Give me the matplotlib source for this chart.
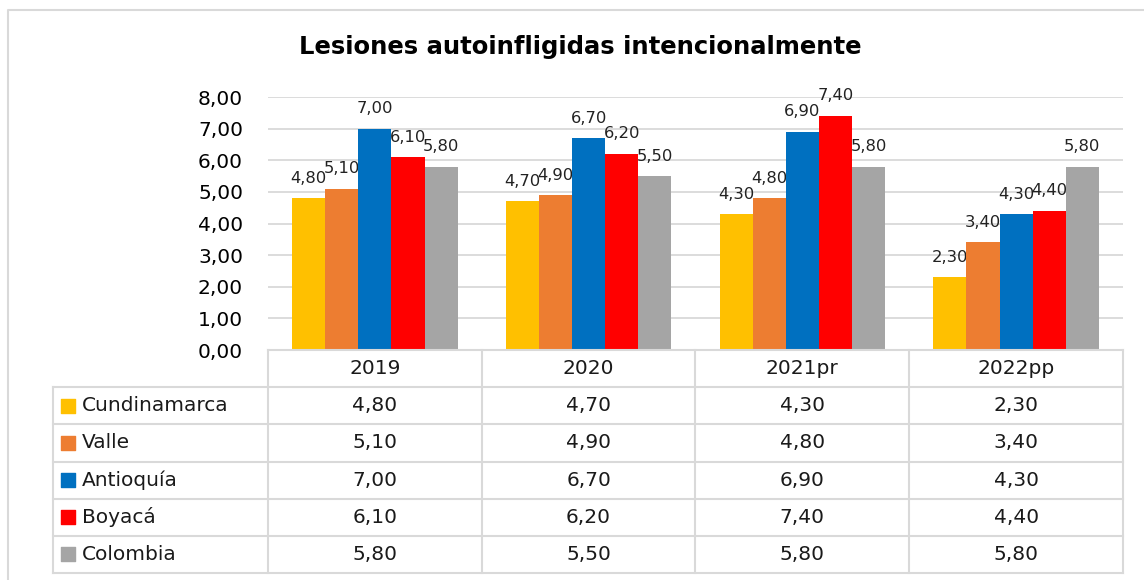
import matplotlib.pyplot as plt
import numpy as np
from matplotlib.lines import Line2D

# Datos
anios = ['2019', '2020', '2021pr', '2022pp']
series = ['Cundinamarca', 'Valle', 'Antioquía', 'Boyacá', 'Colombia']
cundinamarca = [4.80, 4.70, 4.30, 2.30]
valle = [5.10, 4.90, 4.80, 3.40]
antioquia = [7.00, 6.70, 6.90, 4.30]
boyaca = [6.10, 6.20, 7.40, 4.40]
colombia = [5.80, 5.50, 5.80, 5.80]
valores = [cundinamarca, valle, antioquia, boyaca, colombia]
colores = ['#FFC000', '#ED7D31', '#0070C0', '#FF0000', '#A5A5A5']
yticks = [0, 1, 2, 3, 4, 5, 6, 7, 8]

plt.rcParams['font.family'] = ['DejaVu Sans']
W, H = 1144, 580
gris = '#d9d9d9'


def fmt(v):
    return f"{v:.2f}".replace('.', ',')


fig = plt.figure(figsize=(W / 100, H / 100), dpi=100)

# marco del grafico (solo borde izquierdo y superior visibles)
fig.add_artist(Line2D([8 / W, 8 / W, 1.0], [0.0, 1 - 10 / H, 1 - 10 / H],
                      transform=fig.transFigure, color=gris, lw=1.5))

fig.text(580 / W, 1 - 47 / H, 'Lesiones autoinfligidas intencionalmente',
         ha='center', va='center', fontsize=17.5, fontweight='bold')

# grafico de barras
x0, x1, ytop, ybot = 268, 1123, 97, 350
ax = fig.add_axes([x0 / W, 1 - ybot / H, (x1 - x0) / W, (ybot - ytop) / H])
x = np.arange(len(anios))
ancho = 0.155
for i, (vals, c) in enumerate(zip(valores, colores)):
    pos = x + (i - 2) * ancho
    ax.bar(pos, vals, width=ancho, color=c, zorder=3)
    for p, v in zip(pos, vals):
        ax.annotate(fmt(v), (p, v), xytext=(0, 9), textcoords='offset points',
                    ha='center', va='bottom', fontsize=11.8, color='#222222')
ax.set_xlim(-0.5, len(anios) - 0.5)
ax.set_ylim(0, 8)
ax.set_yticks(yticks)
ax.set_yticklabels([fmt(v) for v in yticks], fontsize=14.5)
ax.tick_params(axis='y', length=0, pad=18)
ax.set_xticks([])
ax.yaxis.grid(True, color=gris, lw=1.3, zorder=0)
for s in ax.spines.values():
    s.set_visible(False)

# tabla de datos
tx0, tbot = 53, 573
tab = fig.add_axes([tx0 / W, 1 - tbot / H, (x1 - tx0) / W, (tbot - ybot) / H])
col_w = (x1 - x0) / len(anios)
lab_w = (x0 - tx0) / col_w
n_filas = len(series) + 1
tab.set_xlim(-0.5 - lab_w, len(anios) - 0.5)
tab.set_ylim(n_filas, 0)
tab.axis('off')

izq = -0.5 - lab_w
der = len(anios) - 0.5
# lineas horizontales
tab.plot([-0.5, der], [0, 0], color=gris, lw=1.5, clip_on=False)
for r in range(1, n_filas + 1):
    tab.plot([izq, der], [r, r], color=gris, lw=1.5, clip_on=False)
# lineas verticales
tab.plot([izq, izq], [1, n_filas], color=gris, lw=1.5, clip_on=False)
for c in range(len(anios) + 1):
    tab.plot([c - 0.5, c - 0.5], [0, n_filas], color=gris, lw=1.5, clip_on=False)

for j, a in enumerate(anios):
    tab.text(j, 0.5, a, ha='center', va='center', fontsize=14.5, color='#1a1a1a')
for i, (nombre, vals, c) in enumerate(zip(series, valores, colores)):
    fila = i + 1.5
    tab.scatter([izq + 0.07], [fila], marker='s', s=95, color=c, clip_on=False)
    tab.text(izq + 0.135, fila, nombre, ha='left', va='center', fontsize=14.5, color='#1a1a1a')
    for j, v in enumerate(vals):
        tab.text(j, fila, fmt(v), ha='center', va='center', fontsize=14.5, color='#1a1a1a')

fig.savefig('out.png', dpi=100)
